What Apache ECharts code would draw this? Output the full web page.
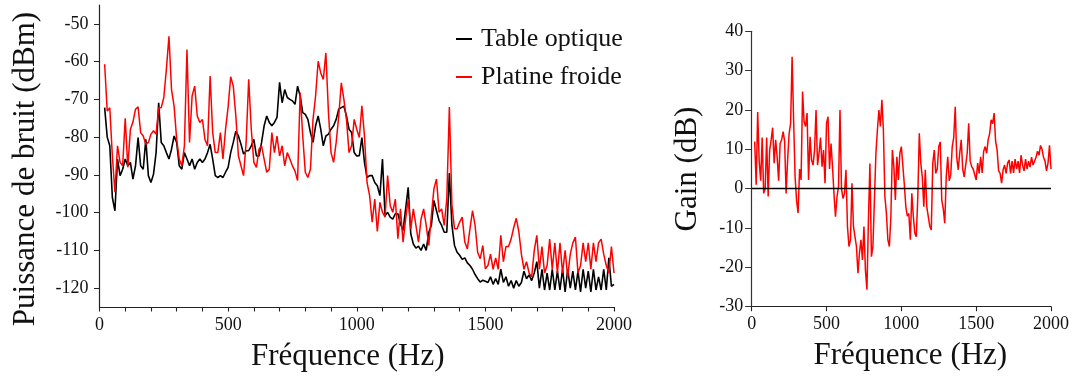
<!DOCTYPE html>
<html>
<head>
<meta charset="utf-8">
<script src="https://cdn.jsdelivr.net/npm/echarts@6/dist/echarts.min.js"></script>
<style>
  html, body { margin: 0; padding: 0; background: #fff; }
  #chart { width: 1072px; height: 378px; }
</style>
</head>
<body>
<div id="chart"></div>
<script>
// Frequency grid (Hz), shared by all three curves
const freq = [
  20, 30, 40, 50, 60, 70, 80, 90, 100, 110,
  120, 130, 140, 150, 160, 170, 180, 190, 200, 210,
  220, 230, 240, 250, 260, 270, 280, 290, 300, 310,
  320, 330, 340, 350, 360, 370, 380, 390, 400, 410,
  420, 430, 440, 450, 460, 470, 480, 490, 500, 510,
  520, 530, 540, 550, 560, 570, 580, 590, 600, 610,
  620, 630, 640, 650, 660, 670, 680, 690, 700, 710,
  720, 730, 740, 750, 760, 770, 780, 790, 800, 810,
  820, 830, 840, 850, 860, 870, 880, 890, 900, 910,
  920, 930, 940, 950, 960, 970, 980, 990, 1000, 1010,
  1020, 1030, 1040, 1050, 1060, 1070, 1080, 1090, 1100, 1110,
  1120, 1130, 1140, 1150, 1160, 1170, 1180, 1190, 1200, 1210,
  1220, 1230, 1240, 1250, 1260, 1270, 1280, 1290, 1300, 1310,
  1320, 1330, 1340, 1350, 1360, 1370, 1380, 1390, 1400, 1410,
  1420, 1430, 1440, 1450, 1460, 1470, 1480, 1490, 1500, 1510,
  1520, 1530, 1540, 1550, 1560, 1570, 1580, 1590, 1600, 1610,
  1620, 1630, 1640, 1650, 1660, 1670, 1680, 1690, 1700, 1710,
  1720, 1730, 1740, 1750, 1760, 1770, 1780, 1790, 1800, 1810,
  1820, 1830, 1840, 1850, 1860, 1870, 1880, 1890, 1900, 1910,
  1920, 1930, 1940, 1950, 1960, 1970, 1980, 1990, 2000
];

// Noise power on the optical table (dBm)
const tableOptique = [
  -72.2, -80, -82.3, -96, -99.5, -85.8, -90.2, -88.5, -85.8, -87.6,
  -86.7, -91.1, -87.6, -80.1, -87.6, -88.5, -80.6, -90.2, -92, -89.8,
  -84.1, -70.9, -81.4, -82.3, -84.1, -85.8, -83.2, -79.7, -81.4, -87.6,
  -88.5, -84.1, -85.8, -87.6, -85.8, -88.5, -86.7, -85.8, -86.7, -85.8,
  -84.1, -81.9, -85.8, -90.2, -90.7, -90.2, -90.7, -89.3, -88, -84.1,
  -81.4, -78.4, -79.7, -81.9, -84.5, -83.6, -83.6, -82.3, -80.6, -85,
  -85, -81.4, -77, -74.4, -76.1, -77, -76.1, -74.8, -65.5, -70.9,
  -67.4, -69.5, -70, -70.4, -71.3, -66.5, -69.1, -73.5, -74, -75.3,
  -78.8, -81.4, -77, -74.4, -77.9, -82.3, -79.7, -79.2, -77.9, -77,
  -75.3, -72.6, -72.2, -71.8, -74.4, -77.9, -78.8, -84.1, -85, -84.9,
  -80.1, -86.7, -90.7, -90.2, -90.2, -92, -92.9, -95.5, -85.8, -100.8,
  -99.9, -101.2, -101.7, -100.3, -100.3, -103, -104.7, -99, -93.3, -105.6,
  -108.3, -109.4, -108.9, -110, -108.3, -110, -105.2, -103.4, -96.8, -99.5,
  -102.1, -103.4, -105.2, -105.2, -89.5, -103.4, -108.7, -110.5, -111.3, -112.4,
  -112, -113.3, -114, -115, -116.4, -117.5, -118.4, -117.9, -118.2, -118.5,
  -117, -119, -117.5, -119, -115, -118.5, -117, -119.5, -118, -120,
  -118, -119.5, -118.5, -115.5, -117.5, -116.5, -118, -116, -113, -120,
  -115, -120.5, -116, -120.5, -115, -120.5, -115.5, -120.5, -115, -121,
  -115, -120, -115.5, -120.5, -115.5, -121, -115, -120, -115.5, -121,
  -115, -120.5, -117, -120.5, -115, -120.5, -112, -119.5, -119
];

// Noise power on the cold plate (dBm)
const platineFroide = [
  -60.7, -73.1, -72.2, -85, -94.6, -82.3, -86.7, -87.6, -75, -88,
  -78, -76, -72.6, -72, -78.8, -79.7, -81.9, -81.4, -79.2, -78.3,
  -79.2, -72.2, -72.2, -69.5, -62, -53.3, -67.4, -71.8, -80.6, -85.8,
  -87.6, -82.3, -56.8, -81.4, -69.1, -66.5, -74.4, -76.1, -75.3, -80.6,
  -82.3, -63.8, -78.8, -84.1, -84.1, -78.8, -85.8, -77.9, -72, -64,
  -66.5, -74.4, -85, -87.6, -90.2, -81.4, -64.7, -77.9, -86.7, -88,
  -83.2, -82.3, -85.8, -89.3, -88.5, -78.8, -84.1, -79.7, -85, -82.3,
  -87.6, -84.1, -85.8, -87.6, -89, -91.5, -68.2, -79.7, -89.3, -90.7,
  -88.5, -75.3, -69.1, -59.9, -63, -64.7, -57.7, -73.5, -84.1, -86.7,
  -81.4, -74.4, -65.6, -70, -75.3, -84.1, -82.3, -75.3, -77.9, -80.1,
  -71.7, -79.7, -92, -95.5, -102.5, -96.4, -105, -97.3, -99.9, -101.2,
  -90.2, -98.1, -99.9, -96.4, -106.9, -99, -107.8, -101.7, -96.4, -104.3,
  -99, -103.4, -107.8, -101.7, -99, -103.4, -108.7, -100.8, -93.7, -91.1,
  -99.9, -99, -103.4, -96.4, -72, -98, -104.3, -104.3, -102.5, -101.2,
  -107.8, -109.6, -104.3, -99.5, -103.4, -110.5, -112.2, -108.7, -114.9, -114,
  -111, -115, -112, -115, -106, -113, -109, -109, -107, -104,
  -101.5, -105, -111, -115, -113, -116, -117, -110, -106, -115,
  -109, -116, -114, -107, -115, -108, -116, -108, -116, -110,
  -117, -111, -108, -106.5, -116, -114, -108, -113, -108, -115,
  -108, -113, -108, -107, -111, -114, -116, -109, -116
];

// Gain of the cold plate over the optical table (dB)
const gain = [
  12, 1, 19.5, 7, 2, 13, -1.2, 0, 13, -2,
  9.8, 12.4, 15.5, 6.5, 12.4, 8.1, 2, 11.5, 12.4, 14.5,
  12, -1.2, 7.3, 14, 16.6, 33.5, 17.5, 3, -3, -6.2,
  5, 2.2, 24.7, 17, 15.8, 19.2, 2.2, 13.2, 7.3, 6,
  9.8, 20, 6, 9, 13, 5.6, 9.8, 1.4, 16.6, 18.3,
  5, 11.5, 5.6, -1.5, -7.1, -2, 0.5, 20, 0, -2.5,
  -1.2, 4.8, -9.6, -14.7, -13, 1.4, -9.6, -12.2, -14.7, -21.5,
  -16.4, -13, -18.1, -9.6, -20.7, -25.7, -7.9, 6.4, -17.3, -14.7,
  -2.9, 9, 14.9, 20, 15.8, 22.6, 14.9, -2, -6.2, -13,
  -14.7, -7.1, 9.8, 5.6, -2.9, 8.1, 2.2, 9, 10.7, 10.7,
  1, -4.6, -7, -6.3, -13, -1.2, -7, -11.3, -12.2, -2,
  14.1, 6.5, 3, -4.6, 4.8, -4.6, -4.5, -9.6, -10.5, 6.5,
  9.8, 3.9, 5, 10.7, 11.9, -2.9, -5, -8.8, 3, 8.1,
  2, 3.5, 10.7, 13, 20.8, 8, 4.8, 9, 12.4, 5,
  3, 3, 9, 16.6, 7, 5.6, 5, 4.5, 2.2, 6.5,
  3.9, 8.1, 4, 9.5, 10.7, 9, 12.4, 14, 17.5, 16.5,
  19.2, 12, 9.8, 4.5, 3.9, 1.4, 4.8, 6, 3.9, 6.5,
  7.3, 3.9, 7, 4, 7.5, 5, 7, 4, 8.5, 6,
  4.5, 7.5, 5, 7, 5.5, 8, 6, 6.5, 8, 9.5,
  8.5, 11, 10, 8, 7, 4.5, 6.5, 11, 5
];

// Tick values
const freqTicks = [0, 500, 1000, 1500, 2000];
const powerTicks = [-120, -110, -100, -90, -80, -70, -60, -50];
const gainTicks = [-30, -20, -10, 0, 10, 20, 30, 40];

const FONT = '"Liberation Serif", "DejaVu Serif", serif';
const INK = '#111';
const plain = v => String(v);

function pairs(ys) { return freq.map((f, i) => [f, ys[i]]); }

// Frequency axis; tickStep 100 gives the fine tick marks of the left panel,
// labels stay on the 500 Hz values either way
function freqAxis(gridIndex, tickStep, namePad) {
  return {
    type: 'value', gridIndex: gridIndex, position: 'bottom',
    min: freqTicks[0], max: freqTicks[freqTicks.length - 1], interval: tickStep,
    axisLine: { show: true, onZero: false, lineStyle: { color: '#222', width: 1.2 } },
    axisTick: { show: true, inside: false, length: 4.5, lineStyle: { color: '#222', width: 1.1 } },
    minorTick: { show: false },
    splitLine: { show: false },
    axisLabel: { customValues: freqTicks, formatter: plain, fontFamily: FONT, fontSize: 18, color: INK, margin: 9 },
    name: 'Fréquence (Hz)', nameLocation: 'middle', nameGap: 34,
    nameTextStyle: { fontFamily: FONT, fontSize: 31, color: INK, padding: namePad }
  };
}

const chart = echarts.init(document.getElementById('chart'), null, { renderer: 'canvas' });

chart.setOption({
  animation: false,
  backgroundColor: '#fff',
  textStyle: { fontFamily: FONT },
  legend: {
    orient: 'vertical', left: 451, top: 21,
    itemWidth: 16, itemHeight: 2, itemGap: 12, icon: 'rect',
    textStyle: { fontFamily: FONT, fontSize: 26, color: INK, padding: [0, 0, 0, 4] },
    data: ['Table optique', 'Platine froide']
  },
  grid: [
    { left: 99.5, top: 5, width: 514.5, height: 302 },
    { left: 751.7, top: 31.3, width: 301.6, height: 275.4 }
  ],
  xAxis: [
    freqAxis(0, 100, [0, 18, 0, 0]),
    freqAxis(1, 500, [0, 0, 0, 18])
  ],
  yAxis: [
    {
      type: 'value', gridIndex: 0, min: -125, max: -45,
      axisLine: { show: true, lineStyle: { color: '#222', width: 1.2 } },
      axisTick: { show: true, customValues: powerTicks, length: 5.5, lineStyle: { color: '#222', width: 1 } },
      axisLabel: { customValues: powerTicks, formatter: plain, fontFamily: FONT, fontSize: 18, color: INK, margin: 11 },
      splitLine: { show: false },
      name: 'Puissance de bruit (dBm)', nameLocation: 'middle', nameGap: 58,
      nameTextStyle: { fontFamily: FONT, fontSize: 31, color: INK, padding: [0, 26, 0, 0] }
    },
    {
      type: 'value', gridIndex: 1, min: -30, max: 40,
      axisLine: { show: true, lineStyle: { color: '#333', width: 1.2 } },
      axisTick: { show: true, customValues: gainTicks, length: 6.5, lineStyle: { color: '#333', width: 1 } },
      axisLabel: { customValues: gainTicks, formatter: plain, fontFamily: FONT, fontSize: 18, color: INK, margin: 8.5 },
      splitLine: { show: false },
      name: 'Gain (dB)', nameLocation: 'middle', nameGap: 48,
      nameTextStyle: { fontFamily: FONT, fontSize: 31, color: INK }
    }
  ],
  series: [
    {
      name: 'Table optique', type: 'line', xAxisIndex: 0, yAxisIndex: 0,
      data: pairs(tableOptique), symbol: 'none',
      lineStyle: { color: '#000', width: 1.6 }, itemStyle: { color: '#000' }
    },
    {
      name: 'Platine froide', type: 'line', xAxisIndex: 0, yAxisIndex: 0,
      data: pairs(platineFroide), symbol: 'none',
      lineStyle: { color: '#ff0000', width: 1.5 }, itemStyle: { color: '#ff0000' }
    },
    {
      name: 'Gain', type: 'line', xAxisIndex: 1, yAxisIndex: 1,
      data: pairs(gain), symbol: 'none',
      lineStyle: { color: '#ff0000', width: 1.5 }, itemStyle: { color: '#ff0000' },
      markLine: {
        silent: true, symbol: 'none', label: { show: false },
        lineStyle: { color: '#000', width: 1.3, type: 'solid' },
        data: [{ yAxis: 0 }]
      }
    }
  ]
});
</script>
</body>
</html>
